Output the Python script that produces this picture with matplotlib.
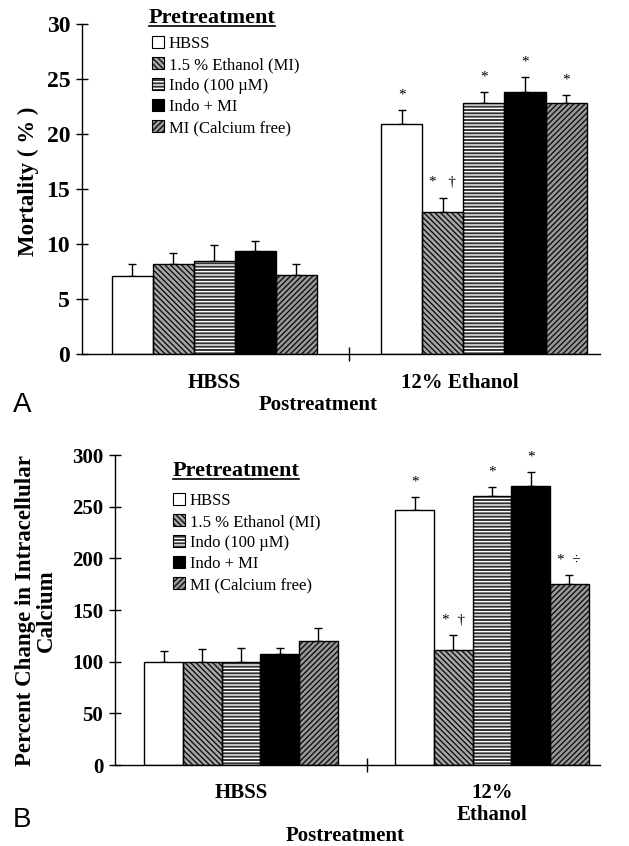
import matplotlib
matplotlib.use("Agg")
import matplotlib.pyplot as plt
from matplotlib.lines import Line2D
from matplotlib.patches import Patch
import numpy as np

plt.rcParams["font.family"] = ["Liberation Serif", "DejaVu Serif"]
plt.rcParams["hatch.linewidth"] = 1.0

# data
groups_a = ["HBSS", "12% Ethanol"]
groups_b = ["HBSS", "12%\nEthanol"]
pretreatments = ["HBSS", "1.5 % Ethanol (MI)", "Indo (100 µM)", "Indo + MI", "MI (Calcium free)"]

# rows = postreatment group, columns = pretreatment
mortality = [[7.1, 8.2, 8.5, 9.4, 7.2],
             [20.9, 12.9, 22.8, 23.8, 22.8]]
mortality_err = [[1.1, 0.95, 1.4, 0.85, 0.95],
                 [1.3, 1.3, 1.0, 1.4, 0.7]]
mortality_marks = [["", "", "", "", ""],
                   ["*", "*   †", "*", "*", "*"]]

calcium = [[100, 100, 100, 107, 120],
           [247, 111, 260, 270, 175]]
calcium_err = [[10, 12, 13, 6, 13],
               [12.5, 14.5, 9, 13.5, 8.5]]
calcium_marks = [["", "", "", "", ""],
                 ["*", "*  †", "*", "*", "*  ÷"]]

# face, hatch colour, hatch
STYLES = [
    ("white", "black", None),
    ("#a8a8a8", "#111111", "\\\\\\\\\\\\"),
    ("#333333", "white", "-----"),
    ("black", "black", None),
    ("#999999", "#111111", "//////"),
]

W, H = 629, 846
fig = plt.figure(figsize=(W / 100, H / 100), dpi=100)


def px(x, y):
    return x / W, 1 - y / H


def draw_panel(ax, groups, means, errs, marks, width, yticks, ymax, ticksize):
    x = np.arange(len(groups))
    handles = []
    for i, name in enumerate(pretreatments):
        face, hcol, hatch = STYLES[i]
        pos = x + (i - 2) * width
        vals = np.array([m[i] for m in means])
        e = np.array([m[i] for m in errs])
        ax.bar(pos, vals, width, color=face, edgecolor=hcol, hatch=hatch, linewidth=0, zorder=2)
        ax.bar(pos, vals, width, fill=False, edgecolor="black", linewidth=1.0, zorder=3)
        ax.errorbar(pos, vals, yerr=[np.zeros_like(e), e], fmt="none", ecolor="black",
                    elinewidth=1, capsize=3, capthick=1, zorder=1)
        for p, v, err, mk in zip(pos, vals, e, [m[i] for m in marks]):
            if mk:
                ax.annotate(mk, (p, v + err), xytext=(0, 15), textcoords="offset pixels",
                            ha="center", va="center", fontsize=11)
        handles.append((Patch(facecolor=face, edgecolor=hcol, hatch=hatch, linewidth=0),
                        Patch(fill=False, edgecolor="black", linewidth=0.8)))

    ax.set_ylim(0, ymax)
    ax.set_yticks(yticks)
    for s in ["top", "right"]:
        ax.spines[s].set_visible(False)
    ax.spines["left"].set_linewidth(1)
    ax.spines["bottom"].set_linewidth(1)
    ax.tick_params(axis="y", direction="inout", length=9, width=1, pad=4, labelsize=ticksize)
    for lab in ax.get_yticklabels():
        lab.set_fontweight("bold")
    ax.set_xticks([0.5])
    ax.set_xticklabels([])
    ax.tick_params(axis="x", direction="inout", length=10, width=1)
    return handles


def legend_block(ax, handles, left, top, title_xy):
    ax.legend(handles, pretreatments, loc="upper left", bbox_to_anchor=px(left, top),
              bbox_transform=fig.transFigure, frameon=False, fontsize=12,
              handlelength=0.7, handleheight=0.7, handletextpad=0.3,
              labelspacing=0.3, borderpad=0, borderaxespad=0)
    t = fig.text(*px(*title_xy), "Pretreatment", ha="center", va="center",
                 fontsize=16, fontweight="bold")
    fig.canvas.draw()
    bb = t.get_window_extent().transformed(fig.transFigure.inverted())
    fig.add_artist(Line2D([bb.x0, bb.x1], [bb.y0 + 0.002, bb.y0 + 0.002],
                          transform=fig.transFigure, color="black", linewidth=1.2))


# panel A
ax_a = fig.add_axes([82 / W, 1 - 354 / H, 518 / W, 330 / H])
ax_a.set_xlim(-0.49, 1.43)
h = draw_panel(ax_a, groups_a, mortality, mortality_err, mortality_marks, 0.152,
               range(0, 31, 5), 30, 17)
legend_block(ax_a, h, 152, 36, (212, 18))
for gx, gl in zip([0, 0.91], groups_a):
    ax_a.annotate(gl, (gx, 0), xycoords=("data", "axes fraction"), xytext=(0, -29),
                  textcoords="offset pixels", ha="center", va="center",
                  fontsize=15, fontweight="bold")
fig.text(*px(318, 405), "Postreatment", ha="center", va="center", fontsize=15, fontweight="bold")
fig.text(*px(28, 181), "Mortality ( % )", ha="center", va="center", rotation=90,
         fontsize=16.5, fontweight="bold")
fig.text(*px(22, 405), "A", ha="center", va="center", fontsize=20, family="Liberation Sans")

# panel B
ax_b = fig.add_axes([115 / W, 1 - 765 / H, 485 / W, 310 / H])
ax_b.set_xlim(-0.502, 1.43)
h = draw_panel(ax_b, groups_b, calcium, calcium_err, calcium_marks, 0.154,
               range(0, 301, 50), 300, 15)
legend_block(ax_b, h, 173, 493, (236, 471))
for gx, gl in zip([0, 1], groups_b):
    ax_b.annotate(gl, (gx, 0), xycoords=("data", "axes fraction"), xytext=(0, -18),
                  textcoords="offset pixels", ha="center", va="top",
                  fontsize=15, fontweight="bold", linespacing=1.1)
fig.text(*px(345, 836), "Postreatment", ha="center", va="center", fontsize=15, fontweight="bold")
fig.text(*px(36, 611), "Percent Change in Intracellular\nCalcium", ha="center", va="center",
         rotation=90, fontsize=16.5, fontweight="bold", linespacing=0.95)
fig.text(*px(22, 820), "B", ha="center", va="center", fontsize=20, family="Liberation Sans")

fig.savefig("out.png", dpi=100)
